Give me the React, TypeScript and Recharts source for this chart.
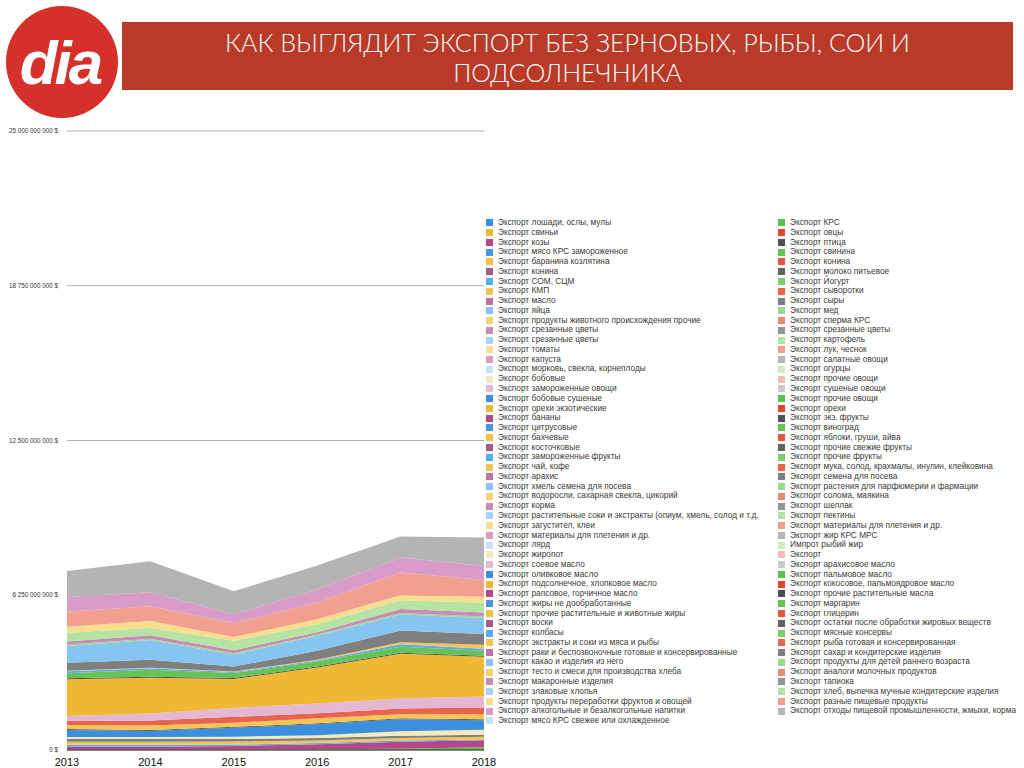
import { Area, AreaChart, CartesianGrid, Legend, XAxis, YAxis } from "recharts";

const YEARS = ["2013", "2014", "2015", "2016", "2017", "2018"];

const LEFT_NAMES = [
  "Экспорт лошади, ослы, мулы",
  "Экспорт свиньи",
  "Экспорт козы",
  "Экспорт мясо КРС замороженное",
  "Экспорт баранина козлятина",
  "Экспорт конина",
  "Экспорт СОМ, СЦМ",
  "Экспорт КМП",
  "Экспорт масло",
  "Экспорт яйца",
  "Экспорт продукты животного происхождения прочие",
  "Экспорт срезанные цветы",
  "Экспорт срезанные цветы",
  "Экспорт томаты",
  "Экспорт капуста",
  "Экспорт морковь, свекла, корнеплоды",
  "Экспорт бобовые",
  "Экспорт замороженные овощи",
  "Экспорт бобовые сушеные",
  "Экспорт орехи экзотические",
  "Экспорт бананы",
  "Экспорт цитрусовые",
  "Экспорт бахчевые",
  "Экспорт косточковые",
  "Экспорт замороженные фрукты",
  "Экспорт чай, кофе",
  "Экспорт арахис",
  "Экспорт хмель семена для посева",
  "Экспорт водоросли, сахарная свекла, цикорий",
  "Экспорт корма",
  "Экспорт растительные соки и экстракты (опиум, хмель, солод и т.д.",
  "Экспорт загустител, клеи",
  "Экспорт материалы для плетения и др.",
  "Экспорт лярд",
  "Экспорт жиропот",
  "Экспорт соевое масло",
  "Экспорт оливковое масло",
  "Экспорт подсолнечное, хлопковое масло",
  "Экспорт рапсовое, горчичное масло",
  "Экспорт жиры не дообработанные",
  "Экспорт прочие растительные и животные жиры",
  "Экспорт воски",
  "Экспорт колбасы",
  "Экспорт экстракты и соки из мяса и рыбы",
  "Экспорт раки и беспозвоночные готовые и консервированные",
  "Экспорт какао и изделия из него",
  "Экспорт тесто и смеси для производства хлеба",
  "Экспорт макаронные изделия",
  "Экспорт злаковые хлопья",
  "Экспорт продукты переработки фруктов и овощей",
  "Экспорт  алкогольные и безалкогольные напитки",
  "Экспорт мясо КРС свежее или охлажденное",
];

const RIGHT_NAMES = [
  "Экспорт КРС",
  "Экспорт овцы",
  "Экспорт птица",
  "Экспорт свинина",
  "Экспорт конина",
  "Экспорт молоко питьевое",
  "Экспорт Йогурт",
  "Экспорт сыворотки",
  "Экспорт сыры",
  "Экспорт мед",
  "Экспорт сперма КРС",
  "Экспорт срезанные цветы",
  "Экспорт картофель",
  "Экспорт лук, чеснок",
  "Экспорт салатные овощи",
  "Экспорт огурцы",
  "Экспорт прочие овощи",
  "Экспорт сушеные овощи",
  "Экспорт прочие овощи",
  "Экспорт орехи",
  "Экспорт экз. фрукты",
  "Экспорт виноград",
  "Экспорт яблоки, груши, айва",
  "Экспорт прочие свежие фрукты",
  "Экспорт прочие фрукты",
  "Экспорт мука, солод, крахмалы, инулин, клейковина",
  "Экспорт семена для посева",
  "Экспорт растения для парфюмерии и фармации",
  "Экспорт солома, маякина",
  "Экспорт шеллак",
  "Экспорт пектины",
  "Экспорт материалы для плетения и др.",
  "Экспорт жир КРС МРС",
  "Импрот рыбий жир",
  "Экспорт",
  "Экспорт арахисовое масло",
  "Экспорт пальмовое масло",
  "Экспорт кокосовое, пальмоядровое масло",
  "Экспорт прочие растительные масла",
  "Экспорт маргарин",
  "Экспорт глицерин",
  "Экспорт остатки после обработки жировых веществ",
  "Экспорт мясные консервы",
  "Экспорт рыба готовая и консервированная",
  "Экспорт сахар и кондитерские изделия",
  "Экспорт продукты для детей раннего возраста",
  "Экспорт аналоги молочных продуктов",
  "Экспорт тапиока",
  "Экспорт хлеб, выпечка мучные кондитерские изделия",
  "Экспорт разные пищевые продукты",
  "Экспорт отходы пищевой промышленности, жмыхи, корма",
];

// blue, green, yellow, red, purple, gray -- six tints, lightest last
const PALETTE = [
  "#3b8fdc", "#5cbf4a", "#f0b935", "#e0452e", "#b5478a", "#4e4e4e",
  "#4697e0", "#66c253", "#f2bd40", "#e3573f", "#a65a88", "#626262",
  "#58adf0", "#7ccf68", "#f4c552", "#e7654e", "#c070a8", "#7f7f7f",
  "#86c4f2", "#9cd98a", "#f6d274", "#ec8874", "#c98ab6", "#939393",
  "#a5d3f6", "#b4e3a4", "#f7de8c", "#f1a08f", "#d99cc8", "#b4b4b4",
  "#c6e2f7", "#cfeec4", "#f6e9bb", "#f4bdb1", "#e4b8d4", "#c8c8cd",
];

// millions of US dollars, 2013..2018 (only layers thick enough to read)
const LIVE_CATTLE = [10, 10, 20, 30, 50, 110];
const GOATS = [120, 120, 140, 200, 280, 280];
const MILK_POWDER = [80, 80, 60, 50, 50, 30];
const KMP = [120, 120, 120, 100, 100, 120];
const CHEESE = [120, 120, 100, 100, 100, 80];
const LEGUMES = [80, 80, 100, 120, 180, 200];
const DRY_LEGUMES = [280, 240, 360, 440, 480, 380];
const OTHER_FRESH_FRUIT = [40, 40, 40, 40, 40, 40];
const TEA_COFFEE = [160, 180, 160, 200, 160, 200];
const FLOUR_MALT = [160, 200, 240, 200, 240, 280];
const SOY_OIL = [200, 280, 360, 400, 400, 440];
const SUNFLOWER_OIL = [1490, 1450, 1170, 1450, 1810, 1610];
const OTHER_VEG_OILS = [40, 40, 40, 40, 40, 40];
const MARGARINE = [200, 280, 200, 200, 240, 200];
const SAUSAGES = [80, 60, 40, 40, 100, 80];
const MEAT_EXTRACTS = [20, 20, 20, 40, 80, 160];
const SUGAR_CONFECTIONERY = [320, 320, 200, 360, 480, 440];
const COCOA = [680, 800, 480, 600, 640, 640];
const BABY_FOOD = [60, 50, 60, 50, 60, 60];
const PASTA = [120, 140, 120, 100, 160, 160];
const BREAD = [360, 300, 380, 320, 360, 400];
const FRUIT_VEG_PRODUCTS = [240, 280, 150, 200, 200, 240];
const MISC_FOOD = [600, 600, 560, 680, 920, 680];
const BEVERAGES = [600, 560, 360, 520, 600, 560];
const FOOD_WASTE = [1050, 1250, 930, 970, 850, 1150];

// series index in legend (row-wise) order -> values
const VALUES_BY_SERIES: Record<number, number[]> = {
  1: LIVE_CATTLE,
  4: GOATS,
  12: MILK_POWDER,
  14: KMP,
  17: CHEESE,
  32: LEGUMES,
  36: DRY_LEGUMES,
  47: OTHER_FRESH_FRUIT,
  50: TEA_COFFEE,
  51: FLOUR_MALT,
  70: SOY_OIL,
  74: SUNFLOWER_OIL,
  77: OTHER_VEG_OILS,
  79: MARGARINE,
  84: SAUSAGES,
  86: MEAT_EXTRACTS,
  89: SUGAR_CONFECTIONERY,
  90: COCOA,
  91: BABY_FOOD,
  94: PASTA,
  97: BREAD,
  98: FRUIT_VEG_PRODUCTS,
  99: MISC_FOOD,
  100: BEVERAGES,
  101: FOOD_WASTE,
};

const Y_TICKS = [0, 6250, 12500, 18750, 25000];

const names: string[] = [];
LEFT_NAMES.forEach((n, i) => {
  names.push(n);
  if (RIGHT_NAMES[i]) names.push(RIGHT_NAMES[i]);
});

const series = names.map((name, k) => ({
  key: "s" + k,
  name,
  color: PALETTE[k % PALETTE.length],
  values: VALUES_BY_SERIES[k] || [0, 0, 0, 0, 0, 0],
}));

const data = YEARS.map((year, i) => {
  const row: Record<string, string | number> = { year };
  series.forEach((s) => {
    row[s.key] = s.values[i];
  });
  return row;
});

const fmtDollars = (v: number) =>
  String(Math.round(v * 1e6)).replace(/\B(?=(\d{3})+(?!\d))/g, " ") + " $";

// plain text tick so the long labels don't wrap
function DollarTick({ x, y, payload }: any) {
  return (
    <text x={x - 1} y={y} dy={2.2} textAnchor="end" fontSize={6.3} fill="#333">
      {fmtDollars(payload.value)}
    </text>
  );
}

function LegendGrid() {
  return (
    <div
      style={{
        display: "grid",
        gridTemplateColumns: "292px 246px",
        gridAutoRows: "9.78px",
        fontFamily: "'Liberation Sans', Arial, sans-serif",
        fontSize: 8.3,
        color: "#3a3a3a",
      }}
    >
      {series.map((s) => (
        <div
          key={s.key}
          style={{ display: "flex", alignItems: "center", whiteSpace: "nowrap", lineHeight: "9.78px" }}
        >
          <span style={{ width: 7, height: 7, background: s.color, marginRight: 5, flex: "none" }} />
          <span>{s.name}</span>
        </div>
      ))}
    </div>
  );
}

export default function App() {
  return (
    <div
      style={{
        position: "fixed",
        left: 0,
        top: 0,
        width: 1024,
        height: 768,
        background: "#fff",
        fontFamily: "'Liberation Sans', Arial, sans-serif",
        overflow: "hidden",
      }}
    >
      <svg width={125} height={125} style={{ position: "absolute", left: 0, top: 0 }}>
        <circle cx={62} cy={62} r={56} fill="#d5302a" />
        <text
          x={60}
          y={84}
          textAnchor="middle"
          fontSize={62}
          fontWeight="bold"
          fontStyle="italic"
          fill="#fff"
          fontFamily="'Liberation Sans', Arial, sans-serif"
          letterSpacing={-3}
        >
          dia
        </text>
      </svg>
      <div
        style={{
          position: "absolute",
          left: 122,
          top: 22,
          width: 891,
          height: 68,
          background: "#b83a27",
          color: "#fff",
          fontFamily: "Lato, Roboto, sans-serif",
          fontWeight: 300,
          fontSize: 25,
          lineHeight: "30px",
          textAlign: "center",
          paddingTop: 5,
          boxSizing: "border-box",
        }}
      >
        КАК ВЫГЛЯДИТ ЭКСПОРТ БЕЗ ЗЕРНОВЫХ, РЫБЫ, СОИ И
        <br />
        ПОДСОЛНЕЧНИКА
      </div>
      <div style={{ position: "absolute", left: 0, top: 0 }}>
        <AreaChart
          width={1024}
          height={768}
          data={data}
          margin={{ top: 131, right: 540, bottom: 0, left: 0 }}
        >
          <CartesianGrid vertical={false} stroke="#b0b0b0" />
          <XAxis
            dataKey="year"
            height={18}
            tickLine={false}
            axisLine={{ stroke: "#333" }}
            tick={{ fontSize: 11, fill: "#111" }}
            interval={0}
          />
          <YAxis
            width={67}
            domain={[0, 25000]}
            ticks={Y_TICKS}
            axisLine={false}
            tickLine={false}
            tick={<DollarTick />}
          />
          <Legend
            layout="horizontal"
            verticalAlign="middle"
            align="center"
            content={() => <LegendGrid />}
            wrapperStyle={{ left: 486, top: 218, width: 538, height: 520 }}
          />
          {series.map((s) => (
            <Area
              key={s.key}
              dataKey={s.key}
              name={s.name}
              stackId="1"
              type="linear"
              fill={s.color}
              fillOpacity={1}
              stroke="none"
              dot={false}
              activeDot={false}
              isAnimationActive={false}
            />
          ))}
        </AreaChart>
      </div>
    </div>
  );
}
